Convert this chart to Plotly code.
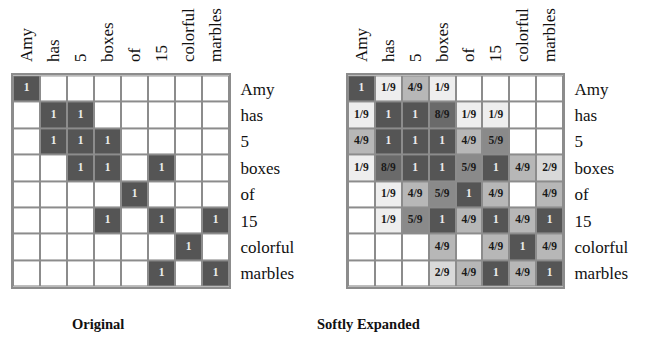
import plotly.graph_objects as go

words = ["Amy", "has", "5", "boxes", "of", "15", "colorful", "marbles"]

# Original matrix (1 = related)
original = [
    [1, 0, 0, 0, 0, 0, 0, 0],
    [0, 1, 1, 0, 0, 0, 0, 0],
    [0, 1, 1, 1, 0, 0, 0, 0],
    [0, 0, 1, 1, 0, 1, 0, 0],
    [0, 0, 0, 0, 1, 0, 0, 0],
    [0, 0, 0, 1, 0, 1, 0, 1],
    [0, 0, 0, 0, 0, 0, 1, 0],
    [0, 0, 0, 0, 0, 1, 0, 1],
]

# Softly expanded matrix, in ninths
expanded_ninths = [
    [9, 1, 4, 1, 0, 0, 0, 0],
    [1, 9, 9, 8, 1, 1, 0, 0],
    [4, 9, 9, 9, 4, 5, 0, 0],
    [1, 8, 9, 9, 5, 9, 4, 2],
    [0, 1, 4, 5, 9, 4, 0, 4],
    [0, 1, 5, 9, 4, 9, 4, 9],
    [0, 0, 0, 4, 0, 4, 9, 4],
    [0, 0, 0, 2, 4, 9, 4, 9],
]

titles = ["Original", "Softly Expanded"]

colorscale = [
    [0.0, "#ffffff"],
    [1 / 9, "#eeeeee"],
    [2 / 9, "#d9d9d9"],
    [3 / 9, "#c8c8c8"],
    [4 / 9, "#b7b7b7"],
    [5 / 9, "#8a8a8a"],
    [6 / 9, "#7e7e7e"],
    [7 / 9, "#747474"],
    [8 / 9, "#6a6a6a"],
    [1.0, "#555555"],
]

FONT = "Liberation Serif"
GRID = "#8c8c8c"
W, H = 647, 337
OFFX = 8   # default page body margin
OFFY = 11

fig = go.Figure()

mats = [[[v * 9 for v in row] for row in original], expanded_ninths]
xaxes = ["x", "x2"]
yaxes = ["y", "y2"]

for k, m in enumerate(mats):
    fig.add_trace(go.Heatmap(
        z=m, x=words, y=words, zmin=0, zmax=9,
        colorscale=colorscale, showscale=False,
        xgap=2, ygap=2, hoverinfo="skip",
        xaxis=xaxes[k], yaxis=yaxes[k],
    ))
    tx, ty, tt, tc = [], [], [], []
    for i, row in enumerate(m):
        for j, v in enumerate(row):
            if v == 0:
                continue
            tx.append(words[j])
            ty.append(words[i])
            tt.append("<b>1</b>" if v == 9 else f"<b>{v}/9</b>")
            tc.append("#ececec" if v == 9 else "#1a1a1a")
    fig.add_trace(go.Scatter(
        x=tx, y=ty, text=tt, mode="text",
        textfont=dict(family=FONT, size=11.5, color=tc),
        hoverinfo="skip", showlegend=False,
        xaxis=xaxes[k], yaxis=yaxes[k],
    ))


def px_x(p):
    return (p - OFFX) / W


def px_y(p, off=OFFY):
    return 1 - (p - off) / H


y0 = px_y(288)
y1 = px_y(71)
doms = [[px_x(13), px_x(229)], [px_x(348), px_x(563)]]

ax_common = dict(
    type="category", showgrid=False, zeroline=False,
    showline=True, mirror=True, linecolor=GRID, linewidth=2,
    ticks="outside", tickcolor="rgba(0,0,0,0)",
    tickfont=dict(family=FONT, size=17, color="#111111"),
)

layout = dict(
    width=W, height=H,
    margin=dict(l=0, r=0, t=0, b=0),
    paper_bgcolor="white", plot_bgcolor=GRID,
    showlegend=False,
)
for k in range(2):
    xs = "xaxis" if k == 0 else "xaxis2"
    ys = "yaxis" if k == 0 else "yaxis2"
    layout[xs] = dict(ax_common, domain=doms[k], side="top", tickangle=-90,
                      ticklen=8,
                      anchor=yaxes[k], categoryorder="array", categoryarray=words,
                      range=[-0.5, 7.5])
    layout[ys] = dict(ax_common, domain=[y0, y1], side="right", ticklen=6,
                      anchor=xaxes[k], categoryorder="array", categoryarray=words,
                      range=[7.5, -0.5])
fig.update_layout(**layout)

centers = [px_x(98), px_x(368)]
for k in range(2):
    fig.add_annotation(
        x=centers[k], y=px_y(323, 8), xref="paper", yref="paper",
        text=f"<b>{titles[k]}</b>", showarrow=False,
        font=dict(family=FONT, size=14.5, color="#111111"),
        xanchor="center", yanchor="middle",
    )

fig.write_html("out.html")
